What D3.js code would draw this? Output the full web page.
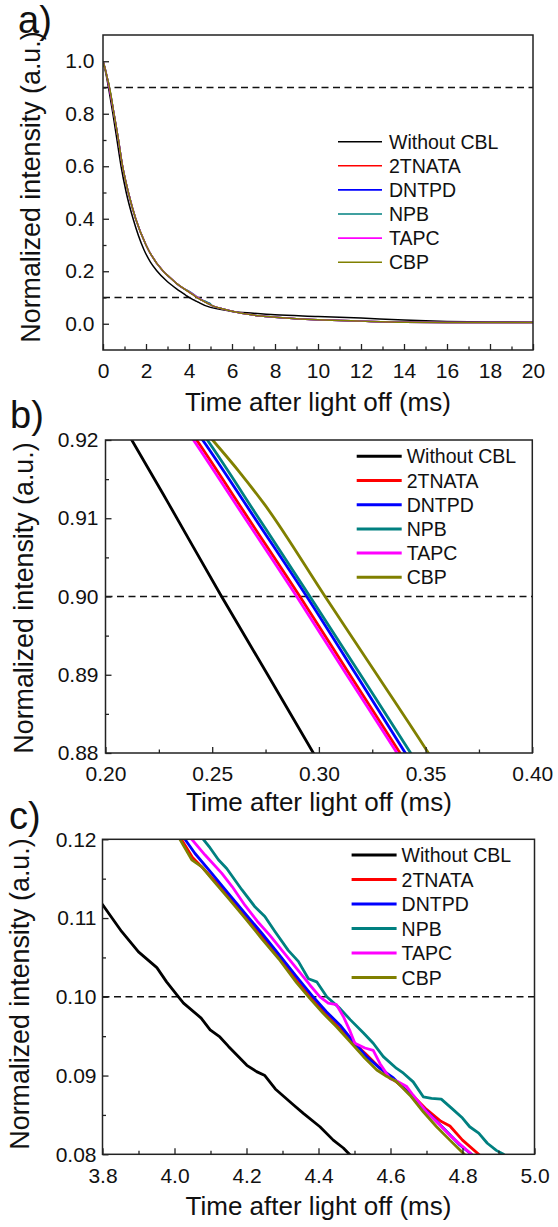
<!DOCTYPE html>
<html>
<head>
<meta charset="utf-8">
<script src="https://cdn.jsdelivr.net/npm/d3@7"></script>
<style>
  body { margin: 0; background: #fff; }
  svg { display: block; font-family: "Liberation Sans", Arial, sans-serif; }
  .frame { fill: none; stroke: #222; stroke-width: 1.5; }
  .axis path.domain { display: none; }
  .axis line { stroke: #222; stroke-width: 1.3; }
  .axis text { font-family: "Liberation Sans", Arial, sans-serif; font-size: 21px; fill: #111; }
  .threshold { stroke: #111; stroke-width: 1.5; stroke-dasharray: 7,4.5; }
  .series { fill: none; stroke-linejoin: round; }
  .legend text { font-size: 19.5px; fill: #111; }
  .axis-title { font-size: 26px; fill: #111; }
  .axis-title.y { font-size: 26.8px; }
  .panel-label { font-size: 38px; fill: #111; }
</style>
</head>
<body>
<div id="chart"></div>
<script>
// ---- data: [time (ms), normalized intensity] ----
const seriesNames = ['Without CBL', '2TNATA', 'DNTPD', 'NPB', 'TAPC', 'CBP'];

const withoutCbl = [
  [0, 1.0], [0.1, 0.966], [0.2123, 0.92], [0.2293, 0.912], [0.2544, 0.90], [0.276, 0.89], [0.2974, 0.88],
  [0.46, 0.80], [0.65, 0.70], [0.84, 0.60], [1.08, 0.50], [1.40, 0.40], [1.9, 0.283], [2.2, 0.236],
  [2.5, 0.202], [3.0, 0.160], [3.5, 0.1285],
  [3.800, 0.1117], [3.853, 0.1083], [3.900, 0.1057], [3.951, 0.1037], [3.978, 0.1019], [4.011, 0.1000],
  [4.025, 0.0992], [4.074, 0.0973], [4.099, 0.0958], [4.126, 0.0949], [4.150, 0.0937], [4.201, 0.0913],
  [4.228, 0.0905], [4.251, 0.0900], [4.280, 0.0883], [4.330, 0.0863], [4.358, 0.0852], [4.404, 0.0835],
  [4.441, 0.0818], [4.469, 0.0808], [4.488, 0.0799],
  [5.0, 0.0625], [5.5, 0.054], [6, 0.047], [7, 0.040], [8, 0.034], [10, 0.028], [12, 0.0215],
  [14, 0.014], [16, 0.009], [18, 0.007], [20, 0.006]
];

// the five CBL curves overlap in panel a, they only separate in the zoomed windows
const cblBase = [
  [0, 1.0], [0.1, 0.972], [0.2, 0.936], [0.5, 0.805], [0.7, 0.71], [0.91, 0.60], [1.18, 0.50],
  [1.52, 0.40], [2.0, 0.30], [2.8, 0.200], [3.1, 0.177], [3.4, 0.155], [3.8, 0.1315],
  [5.1, 0.068], [5.5, 0.058], [6, 0.048], [7, 0.033], [8, 0.025], [9, 0.019], [10, 0.015],
  [12, 0.010], [14, 0.006], [16, 0.005], [18, 0.005], [20, 0.005]
];

const tnataDetail = [
  [0.2427, 0.92], [0.2669, 0.91], [0.2911, 0.90], [0.3145, 0.89], [0.3380, 0.88],
  [4.005, 0.1205], [4.019, 0.1200], [4.050, 0.1177], [4.080, 0.1163], [4.110, 0.1148], [4.155, 0.1124],
  [4.200, 0.1100], [4.245, 0.1075], [4.295, 0.1047], [4.340, 0.1020], [4.378, 0.0999], [4.415, 0.0980],
  [4.452, 0.0963], [4.490, 0.0945], [4.530, 0.0928], [4.565, 0.0912], [4.600, 0.0898], [4.630, 0.0887],
  [4.665, 0.0873], [4.700, 0.0857], [4.740, 0.0842], [4.765, 0.0836], [4.800, 0.0818], [4.845, 0.0800],
  [4.870, 0.0790]
];

const dntpdDetail = [
  [0.2455, 0.92], [0.2700, 0.91], [0.2943, 0.90], [0.3175, 0.89], [0.3405, 0.88],
  [4.015, 0.1210], [4.029, 0.1200], [4.057, 0.1182], [4.103, 0.1157], [4.150, 0.1131], [4.196, 0.1106],
  [4.242, 0.1081], [4.290, 0.1054], [4.340, 0.1025], [4.385, 0.1000], [4.422, 0.0981], [4.460, 0.0964],
  [4.497, 0.0943], [4.534, 0.0924], [4.571, 0.0909], [4.608, 0.0897], [4.645, 0.0880], [4.682, 0.0863],
  [4.719, 0.0846], [4.756, 0.0829], [4.790, 0.0813], [4.825, 0.0800], [4.850, 0.0790]
];

const npbDetail = [
  [0.2477, 0.92], [0.2718, 0.91], [0.2958, 0.90], [0.3195, 0.89], [0.3430, 0.88],
  [4.065, 0.1210], [4.080, 0.1200], [4.099, 0.1189], [4.122, 0.1174], [4.145, 0.1163], [4.187, 0.1136],
  [4.224, 0.1114], [4.251, 0.1102], [4.279, 0.1083], [4.316, 0.1059], [4.344, 0.1045], [4.372, 0.1023],
  [4.395, 0.1019], [4.423, 0.1000], [4.460, 0.0985], [4.488, 0.0971], [4.525, 0.0954], [4.552, 0.0941],
  [4.580, 0.0924], [4.617, 0.0909], [4.636, 0.0903], [4.663, 0.0892], [4.691, 0.0873], [4.714, 0.0871],
  [4.741, 0.0870], [4.771, 0.0858], [4.800, 0.0846], [4.820, 0.0835], [4.845, 0.0827], [4.869, 0.0814],
  [4.894, 0.0805], [4.914, 0.0800], [4.940, 0.0790]
];

const tapcDetail = [
  [0.2412, 0.92], [0.2654, 0.91], [0.2896, 0.90], [0.3130, 0.89], [0.3366, 0.88],
  [4.035, 0.1208], [4.048, 0.1200], [4.085, 0.1180], [4.131, 0.1157], [4.160, 0.1140], [4.196, 0.1116],
  [4.230, 0.1096], [4.265, 0.1078], [4.302, 0.1057], [4.339, 0.1036], [4.376, 0.1015], [4.404, 0.1000],
  [4.427, 0.0992], [4.450, 0.0990], [4.469, 0.0975], [4.488, 0.0956], [4.501, 0.0941], [4.529, 0.0935],
  [4.552, 0.0932], [4.571, 0.0915], [4.599, 0.0896], [4.622, 0.0892], [4.645, 0.0886], [4.663, 0.0875],
  [4.700, 0.0854], [4.738, 0.0837], [4.765, 0.0824], [4.795, 0.0812], [4.825, 0.0800], [4.850, 0.0790]
];

const cbpDetail = [
  [0.2502, 0.92], [0.2625, 0.916], [0.2747, 0.9117], [0.3029, 0.90], [0.3272, 0.89], [0.3513, 0.88],
  [4.000, 0.1210], [4.015, 0.1200], [4.048, 0.1174], [4.076, 0.1165], [4.103, 0.1150], [4.150, 0.1125],
  [4.196, 0.1100], [4.242, 0.1074], [4.290, 0.1048], [4.339, 0.1018], [4.376, 0.0998], [4.413, 0.0979],
  [4.450, 0.0962], [4.488, 0.0943], [4.525, 0.0924], [4.562, 0.0907], [4.589, 0.0899], [4.617, 0.0892],
  [4.654, 0.0875], [4.691, 0.0854], [4.728, 0.0835], [4.765, 0.0818], [4.805, 0.0800], [4.830, 0.0790]
];

// dashed reference levels (90 % and 10 %)
const thresholdLevels = [0.9, 0.1];

// tick values per panel
const ticksA = { xMajor: [0, 2, 4, 6, 8, 10, 12, 14, 16, 18, 20], xMinor: [1, 3, 5, 7, 9, 11, 13, 15, 17, 19],
                 yMajor: [0.0, 0.2, 0.4, 0.6, 0.8, 1.0], yMinor: [0.1, 0.3, 0.5, 0.7, 0.9] };
const ticksB = { xMajor: [0.20, 0.25, 0.30, 0.35, 0.40], xMinor: [0.225, 0.275, 0.325, 0.375],
                 yMajor: [0.88, 0.89, 0.90, 0.91, 0.92], yMinor: [0.885, 0.895, 0.905, 0.915] };
const ticksC = { xMajor: [3.8, 4.0, 4.2, 4.4, 4.6, 4.8, 5.0], xMinor: [3.9, 4.1, 4.3, 4.5, 4.7, 4.9],
                 yMajor: [0.08, 0.09, 0.10, 0.11, 0.12], yMinor: [0.085, 0.095, 0.105, 0.115] };

const seriesColors = {
  'Without CBL': '#000000', '2TNATA': '#ff0000', 'DNTPD': '#0000ff',
  'NPB': '#008080', 'TAPC': '#ff00ff', 'CBP': '#808000'
};

// merge the shared curve with each device's detailed windows
const withBase = detail => cblBase.concat(detail).sort((a, b) => a[0] - b[0]);
const seriesPoints = {
  'Without CBL': withoutCbl,
  '2TNATA': withBase(tnataDetail),
  'DNTPD': withBase(dntpdDetail),
  'NPB': withBase(npbDetail),
  'TAPC': withBase(tapcDetail),
  'CBP': withBase(cbpDetail)
};
const seriesData = seriesNames.map(name => ({ name, points: seriesPoints[name] }));


class DecayPanel {

  constructor(_config, _data) {
    this.config = _config;
    this.data = _data;
    this.initVis();
  }

  initVis() {
    let vis = this;
    const c = vis.config;

    vis.xScale = d3.scaleLinear().domain(c.xDomain).range([0, c.width]);
    vis.yScale = d3.scaleLinear().domain(c.yDomain).range([c.height, 0]);

    vis.chartArea = c.svg.append('g')
        .attr('transform', `translate(${c.left},${c.top})`);

    vis.chartArea.append('clipPath')
        .attr('id', `${c.id}-clip`)
      .append('rect')
        .attr('width', c.width)
        .attr('height', c.height);

    vis.chart = vis.chartArea.append('g')
        .attr('clip-path', `url(#${c.id}-clip)`);

    vis.renderVis();
  }

  renderVis() {
    let vis = this;
    const c = vis.config;

    // dashed 90 % / 10 % levels
    vis.chart.selectAll('.threshold')
      .data(thresholdLevels.filter(v => v >= c.yDomain[0] && v <= c.yDomain[1]))
      .join('line')
        .attr('class', 'threshold')
        .attr('x1', 0)
        .attr('x2', c.width)
        .attr('y1', d => vis.yScale(d))
        .attr('y2', d => vis.yScale(d));

    const line = d3.line()
      .x(d => vis.xScale(d[0]))
      .y(d => vis.yScale(d[1]))
      .curve(c.curve);

    vis.chart.selectAll('.series')
      .data(vis.data, d => d.name)
      .join('path')
        .attr('class', 'series')
        .attr('stroke', d => seriesColors[d.name])
        .attr('stroke-width', c.lineWidth)
        .attr('d', d => line(d.points));

    // axes: major and minor ticks point inward, no domain line (frame drawn below)
    const t = c.ticks;
    vis.chartArea.append('g')
        .attr('class', 'axis')
        .attr('transform', `translate(0,${c.height})`)
        .call(d3.axisBottom(vis.xScale).tickValues(t.xMajor).tickFormat(c.xFormat)
          .tickSize(-6).tickPadding(c.xPad));
    vis.chartArea.append('g')
        .attr('class', 'axis')
        .attr('transform', `translate(0,${c.height})`)
        .call(d3.axisBottom(vis.xScale).tickValues(t.xMinor).tickFormat('').tickSize(-3.5));
    vis.chartArea.append('g')
        .attr('class', 'axis')
        .call(d3.axisLeft(vis.yScale).tickValues(t.yMajor).tickFormat(c.yFormat)
          .tickSize(-6).tickPadding(c.yPad));
    vis.chartArea.append('g')
        .attr('class', 'axis')
        .call(d3.axisLeft(vis.yScale).tickValues(t.yMinor).tickFormat('').tickSize(-3.5));

    vis.chartArea.append('rect')
        .attr('class', 'frame')
        .attr('width', c.width)
        .attr('height', c.height);

    // ---- legend ----
    const lg = c.legend;
    const rows = vis.chartArea.append('g')
        .attr('class', 'legend')
        .attr('transform', `translate(${lg.x - c.left},${lg.y - c.top})`)
      .selectAll('g')
      .data(seriesNames)
      .join('g')
        .attr('transform', (d, i) => `translate(0,${i * lg.rowHeight})`);

    rows.append('line')
        .attr('x2', lg.lineLength)
        .attr('stroke', d => seriesColors[d])
        .attr('stroke-width', lg.lineWidth);

    rows.append('text')
        .attr('x', lg.lineLength + lg.gap)
        .attr('y', 7)
        .text(d => d);

    // ---- titles ----
    c.svg.append('text')
        .attr('class', 'axis-title')
        .attr('text-anchor', 'middle')
        .attr('x', c.left + c.width / 2)
        .attr('y', c.xTitleY)
        .text('Time after light off (ms)');

    c.svg.append('text')
        .attr('class', 'axis-title y')
        .attr('text-anchor', 'middle')
        .attr('transform', `translate(${c.yTitleX},${c.yTitleCenter}) rotate(-90)`)
        .text('Normalized intensity (a.u.)');

    c.svg.append('text')
        .attr('class', 'panel-label')
        .attr('x', c.labelX)
        .attr('y', c.labelY)
        .text(c.label);
  }
}

const svg = d3.select('#chart').append('svg')
    .attr('width', 558)
    .attr('height', 1227);

new DecayPanel({
  svg, id: 'a', label: 'a)', labelX: 18, labelY: 32.5,
  left: 103, top: 35, width: 430, height: 315,
  xDomain: [0, 20], yDomain: [-0.1, 1.1], ticks: ticksA,
  xFormat: d3.format('d'), yFormat: d3.format('.1f'), xPad: 13.3, yPad: 8.5,
  curve: d3.curveMonotoneX, lineWidth: 1.5,
  legend: { x: 338, y: 141.7, rowHeight: 24.1, lineLength: 44, gap: 7, lineWidth: 1.6 },
  xTitleY: 410.7, yTitleX: 40, yTitleCenter: 187
}, seriesData);

new DecayPanel({
  svg, id: 'b', label: 'b)', labelX: 10, labelY: 428.3,
  left: 105.5, top: 440, width: 426.8, height: 313,
  xDomain: [0.2, 0.4], yDomain: [0.88, 0.92], ticks: ticksB,
  xFormat: d3.format('.2f'), yFormat: d3.format('.2f'), xPad: 12.8, yPad: 7,
  curve: d3.curveMonotoneX, lineWidth: 2.8,
  legend: { x: 356.7, y: 456.3, rowHeight: 24.2, lineLength: 45, gap: 5, lineWidth: 3 },
  xTitleY: 810.7, yTitleX: 33, yTitleCenter: 598
}, seriesData);

new DecayPanel({
  svg, id: 'c', label: 'c)', labelX: 9, labelY: 829.3,
  left: 102.5, top: 839.3, width: 432, height: 315,
  xDomain: [3.8, 5.0], yDomain: [0.08, 0.12], ticks: ticksC,
  xFormat: d3.format('.1f'), yFormat: d3.format('.2f'), xPad: 13.5, yPad: 6,
  curve: d3.curveLinear, lineWidth: 2.8,
  legend: { x: 351.6, y: 855, rowHeight: 24.5, lineLength: 45, gap: 5, lineWidth: 3 },
  xTitleY: 1215, yTitleX: 29, yTitleCenter: 994
}, seriesData);
</script>
</body>
</html>
